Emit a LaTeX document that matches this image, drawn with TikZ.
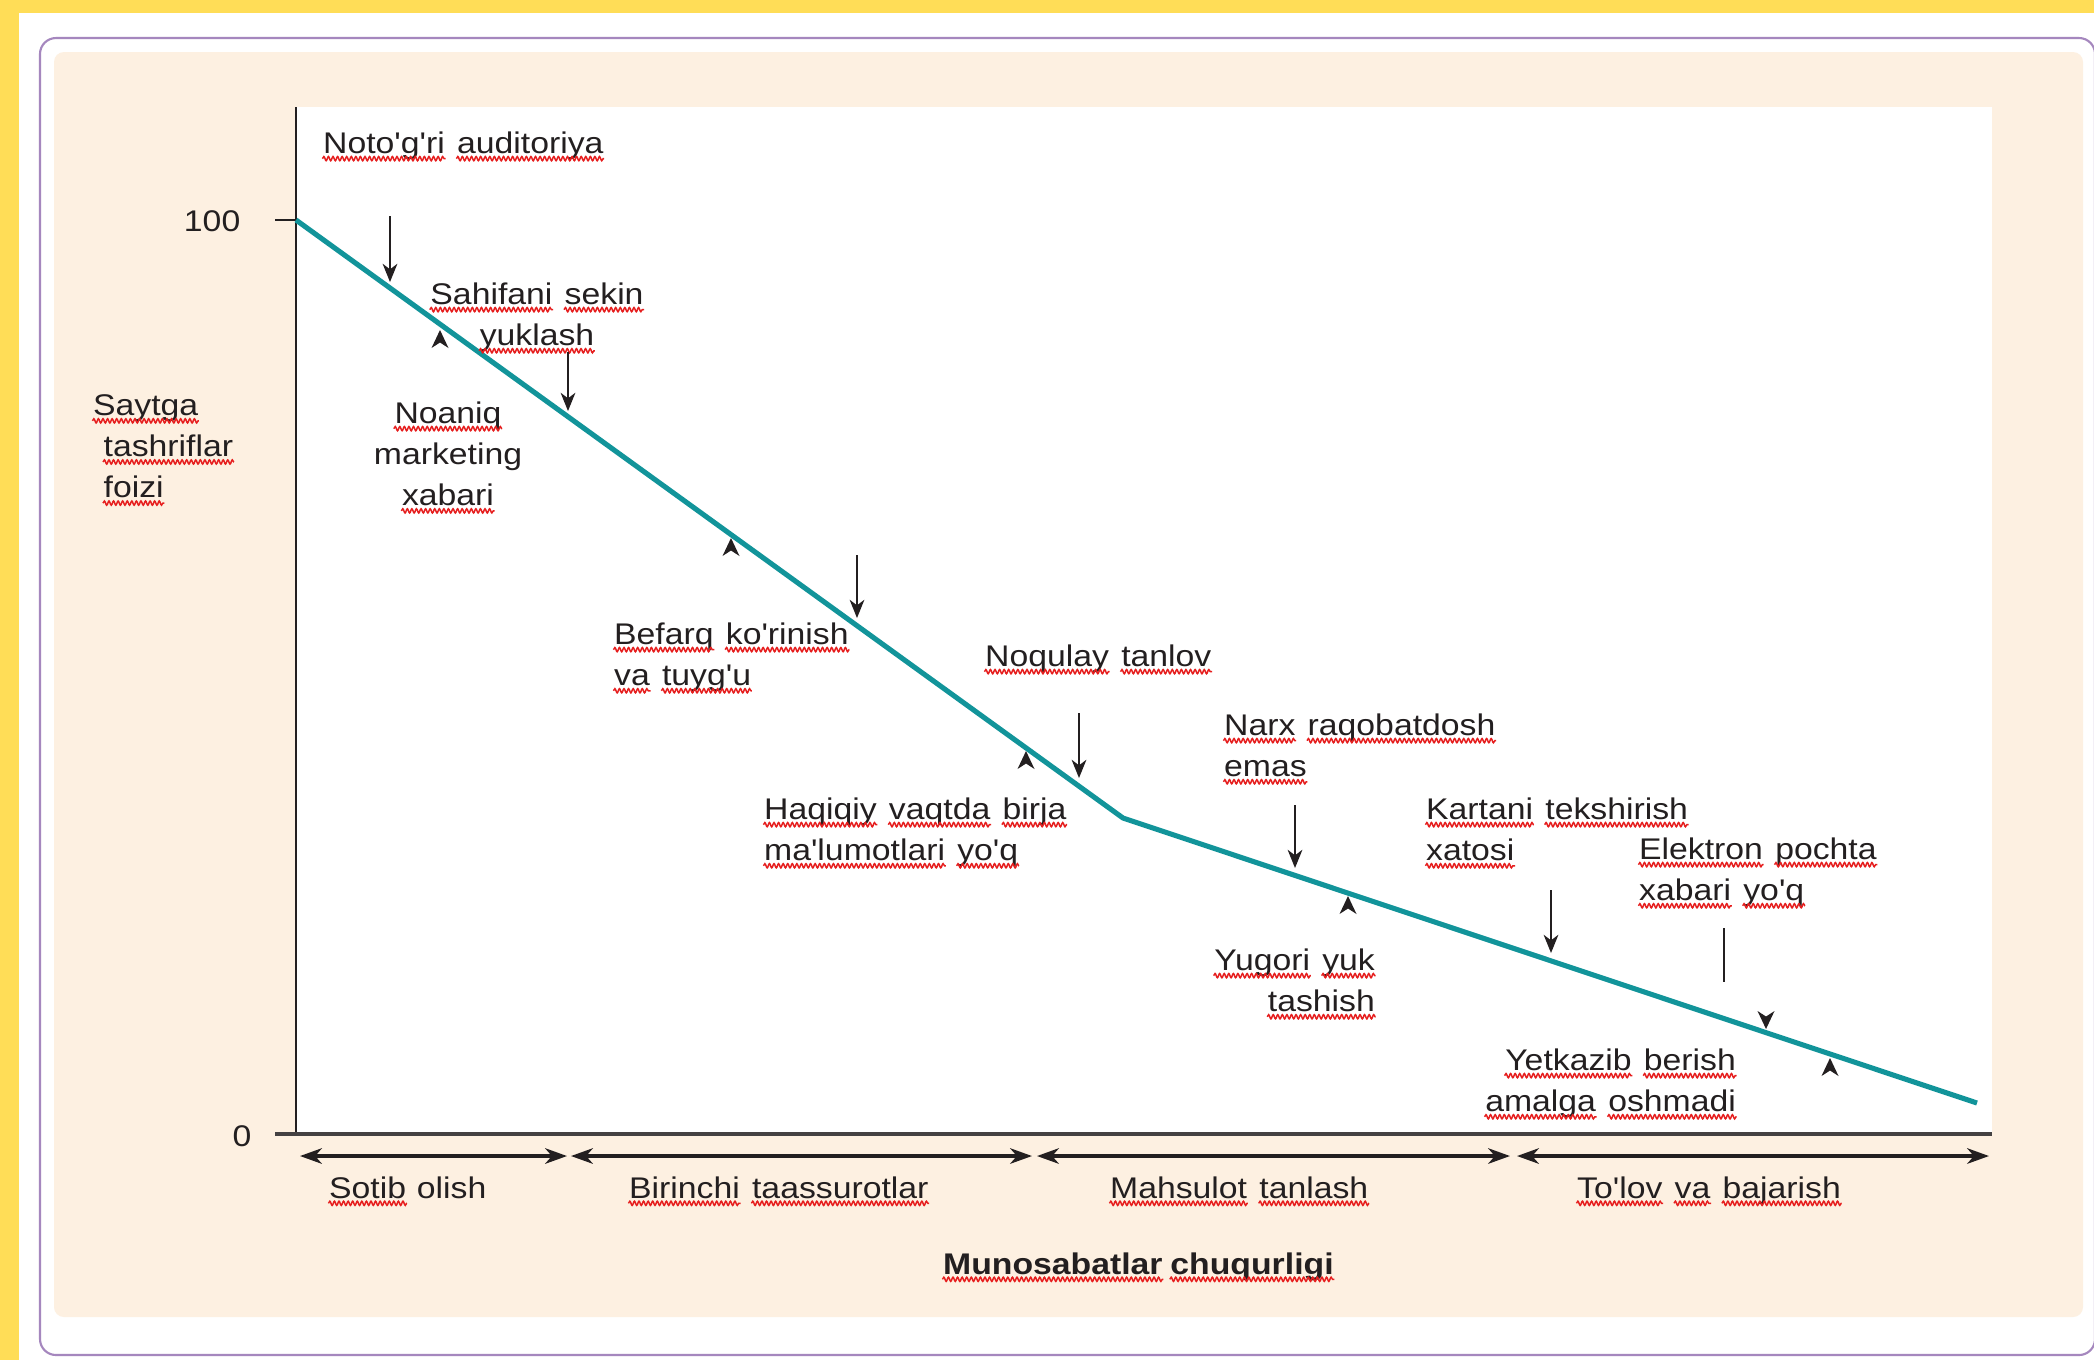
\documentclass[tikz,border=0pt]{standalone}
\usepackage{fontspec}
\setmainfont{Liberation Sans}[Ligatures=TeXOff,FakeStretch=1.13]
\usetikzlibrary{arrows.meta,decorations.pathmorphing}
\pgfdeclarelayer{bg}
\pgfsetlayers{bg,main}
\definecolor{frameyellow}{RGB}{255,221,87}
\definecolor{framepurple}{RGB}{165,135,190}
\definecolor{panelcream}{RGB}{253,240,225}
\definecolor{tealline}{RGB}{18,148,154}
\definecolor{ink}{RGB}{35,31,32}
\definecolor{squig}{RGB}{230,30,30}
% red wavy underline under one word
\newcommand\sq[1]{\tikz[baseline=(sqw.base)]{\node[inner sep=0pt] (sqw) {#1};
    \draw[squig, line width=0.42pt, decorate, decoration={snake, amplitude=0.6pt, segment length=1.3pt}]
    ([yshift=-1.5pt]sqw.base west) -- ([yshift=-1.5pt]sqw.base east);}}
\tikzset{
    every node/.style={inner sep=0pt, text=ink, font=\fontsize{8.5}{11.7}\selectfont}
}
\tikzset{
    dn/.style={ink, line width=0.45pt, -{Stealth[length=5.2pt,width=4.2pt,inset=1.6pt]}},
    phase/.style={ink, line width=1pt, {Stealth[length=6.2pt,width=4.4pt,inset=1.9pt]}-{Stealth[length=6.2pt,width=4.4pt,inset=1.9pt]}},
    uphead/.pic={\fill[ink] (0,0) -- (-8.5,18) -- (0,12.5) -- (8.5,18) -- cycle;},
    dnhead/.pic={\fill[ink] (0,0) -- (-8.5,-18) -- (0,-12.5) -- (8.5,-18) -- cycle;}
}

\begin{document}
\begin{tikzpicture}[x=0.1mm, y=-0.1mm]
    \useasboundingbox (0,0) rectangle (2094,1360);
    \begin{pgfonlayer}{bg}
        \fill[frameyellow] (0,0) rectangle (2094,1360);
        \fill[white] (19,13) rectangle (2094,1360);
        \draw[framepurple, line width=0.6pt, rounded corners=1.6mm] (40,38) rectangle (2095,1355);
        \fill[panelcream, rounded corners=1mm] (54,52) rectangle (2083,1317);
        \fill[white] (296,107) rectangle (1992,1134);
    \end{pgfonlayer}

    % axes
    \coordinate (o) at (296,1134);
    \coordinate (yt) at (296,107);
    \coordinate (x0) at (275,1134);
    \coordinate (xe) at (1992,1134);
    \coordinate (k0) at (275,220);
    \coordinate (c0) at (296,220);
    \coordinate (c1) at (1123,818);
    \coordinate (c2) at (1977,1103);
    \draw[ink, line width=0.6pt] (o) -- (yt);
    \draw[ink!85, line width=1.1pt] (x0) -- (xe);
    \draw[ink, line width=0.4pt] (k0) -- (c0);
    \draw[tealline, line width=1.45pt, line join=round] (c0) -- (c1) -- (c2);

    \node (t100) [anchor=east] at (241,221) {100};
    \node (t0) [anchor=east] at (252,1136) {0};
    \node (ya) [anchor=north west, align=left] at (91,394) {\sq{Saytga}\\\hspace*{3pt}\sq{tashriflar}\\\hspace*{3pt}\sq{foizi}};

    % phases
    \coordinate (p1) at (300,1156);
    \coordinate (p2) at (567,1156);
    \coordinate (p3) at (571,1156);
    \coordinate (p4) at (1032,1156);
    \coordinate (p5) at (1037,1156);
    \coordinate (p6) at (1510,1156);
    \coordinate (p7) at (1517,1156);
    \coordinate (p8) at (1989,1156);
    \draw[phase] (p1) -- (p2);
    \draw[phase] (p3) -- (p4);
    \draw[phase] (p5) -- (p6);
    \draw[phase] (p7) -- (p8);
    \node (s1) [anchor=base west] at (327,1198) {\sq{Sotib} olish};
    \node (s2) [anchor=base west] at (627,1198) {\sq{Birinchi} \sq{taassurotlar}};
    \node (s3) [anchor=base west] at (1108,1198) {\sq{Mahsulot} \sq{tanlash}};
    \node (s4) [anchor=base west] at (1575,1198) {\sq{To'lov} \sq{va} \sq{bajarish}};
    \node (xl) [anchor=base west] at (941,1274) {\bfseries\sq{Munosabatlar}\,\sq{chuqurligi}};

    % drop reasons
    \node (n1) [anchor=north west] at (321,131) {\sq{Noto'g'ri} \sq{auditoriya}};
    \node (n2) [anchor=north, align=center] at (537,282) {\sq{Sahifani} \sq{sekin}\\\sq{yuklash}};
    \node (n3) [anchor=north, align=center] at (448,401) {\sq{Noaniq}\\marketing\\\sq{xabari}};
    \node (n4) [anchor=north west, align=left] at (612,622) {\sq{Befarq} \sq{ko'rinish}\\\sq{va} \sq{tuyg'u}};
    \node (n5) [anchor=north west] at (983,644) {\sq{Noqulay} \sq{tanlov}};
    \node (n6) [anchor=north west, align=left] at (762,797) {\sq{Haqiqiy} \sq{vaqtda} \sq{birja}\\\sq{ma'lumotlari} \sq{yo'q}};
    \node (n7) [anchor=north west, align=left] at (1222,713) {\sq{Narx} \sq{raqobatdosh}\\\sq{emas}};
    \node (n8) [anchor=north east, align=right] at (1377,948) {\sq{Yugori} \sq{yuk}\\\sq{tashish}};
    \node (n9) [anchor=north west, align=left] at (1424,797) {\sq{Kartani} \sq{tekshirish}\\\sq{xatosi}};
    \node (n10) [anchor=north west, align=left] at (1637,837) {\sq{Elektron} \sq{pochta}\\\sq{xabari} \sq{yo'q}};
    \node (n11) [anchor=north east, align=right] at (1738,1048) {\sq{Yetkazib} \sq{berish}\\\sq{amalga} \sq{oshmadi}};

    % arrows onto the line
    \coordinate (d1a) at (390,216);
    \coordinate (d1b) at (390,282);
    \coordinate (d2a) at (568,352);
    \coordinate (d2b) at (568,411);
    \coordinate (d3a) at (857,555);
    \coordinate (d3b) at (857,618);
    \coordinate (d4a) at (1079,713);
    \coordinate (d4b) at (1079,778);
    \coordinate (d5a) at (1295,805);
    \coordinate (d5b) at (1295,868);
    \coordinate (d6a) at (1551,890);
    \coordinate (d6b) at (1551,953);
    \coordinate (d7a) at (1724,928);
    \coordinate (d7b) at (1724,982);
    \draw[dn] (d1a) -- (d1b);
    \draw[dn] (d2a) -- (d2b);
    \draw[dn] (d3a) -- (d3b);
    \draw[dn] (d4a) -- (d4b);
    \draw[dn] (d5a) -- (d5b);
    \draw[dn] (d6a) -- (d6b);
    \draw[ink, line width=0.45pt] (d7a) -- (d7b);
    \pic at (440,330) {uphead};
    \pic at (731,538) {uphead};
    \pic at (1026,751) {uphead};
    \pic at (1348,896) {uphead};
    \pic at (1830,1058) {uphead};
    \pic at (1766,1029) {dnhead};
\end{tikzpicture}
\end{document}
